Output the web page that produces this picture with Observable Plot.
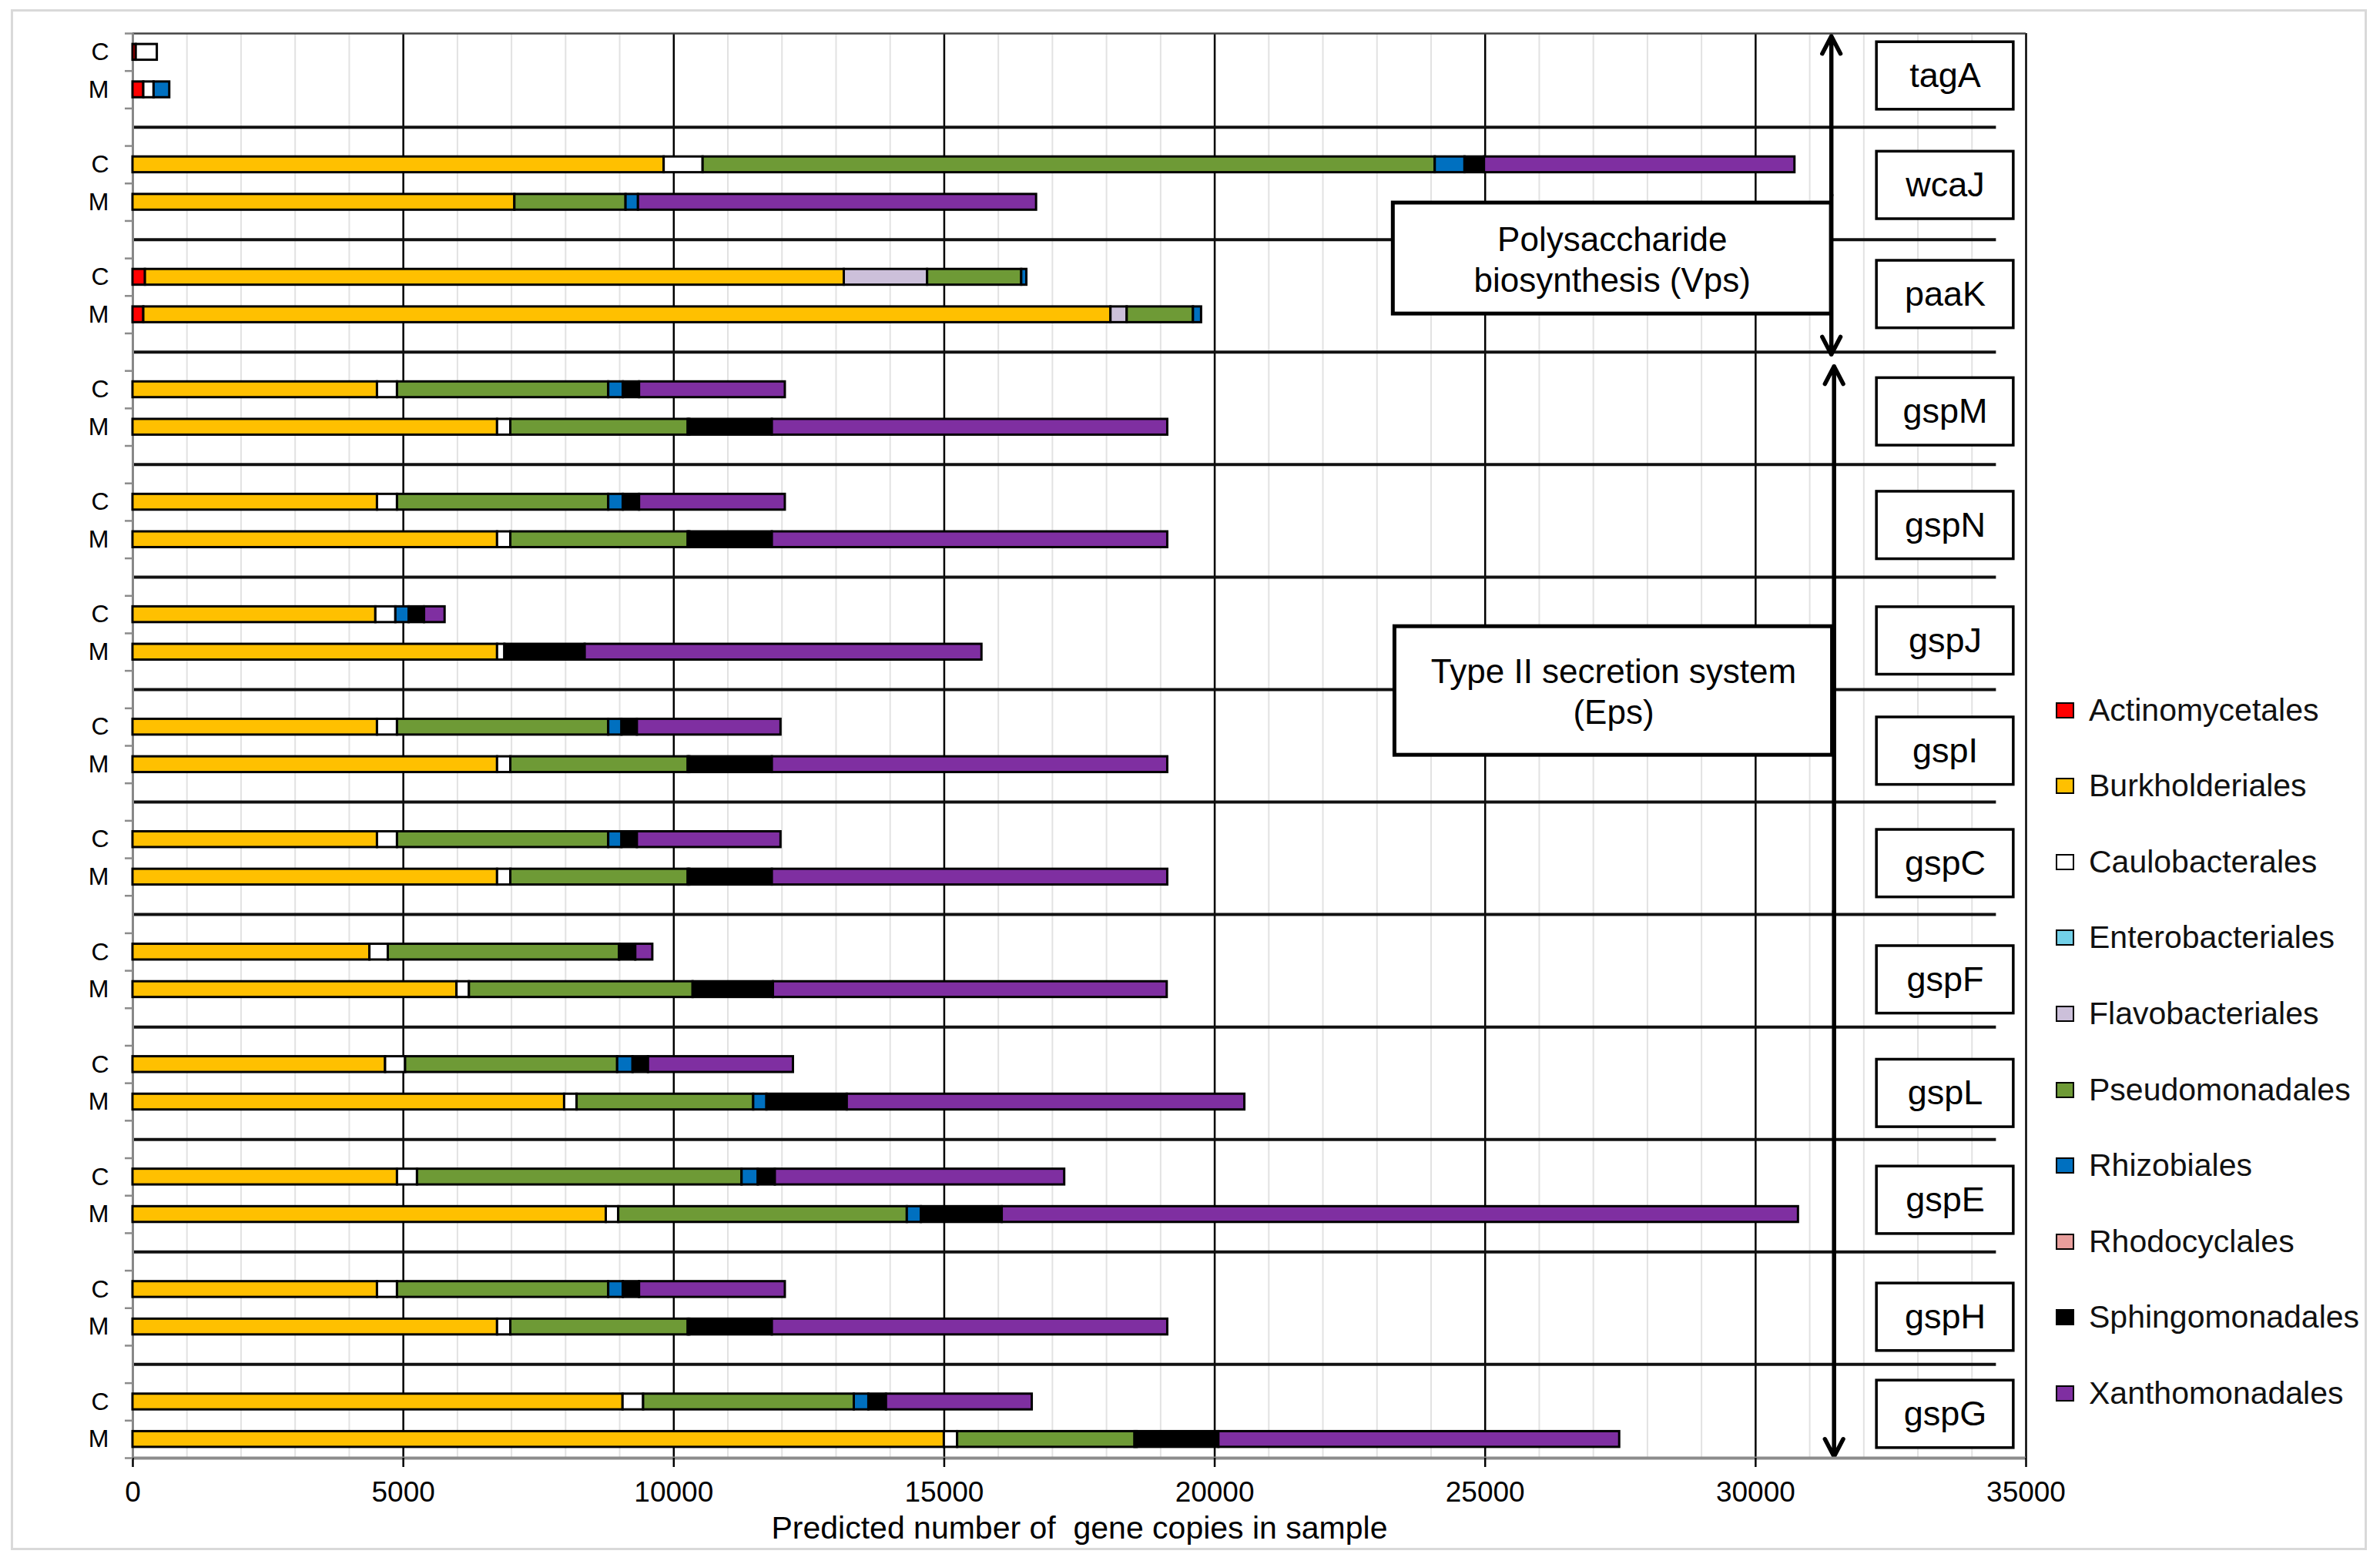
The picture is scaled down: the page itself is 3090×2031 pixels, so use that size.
<!DOCTYPE html>
<html>
<head>
<meta charset="utf-8">
<script src="https://cdn.jsdelivr.net/npm/d3@7"></script>
<script src="https://cdn.jsdelivr.net/npm/@observablehq/plot@0.6"></script>
<style>
  html, body { margin: 0; padding: 0; background: #fff; }
  body { position: relative; width: 3090px; height: 2031px; overflow: hidden; font-family: "Liberation Sans", Arial, sans-serif; }
  #frame { position: absolute; left: 14px; top: 12px; width: 3059px; height: 2001px; border: 3px solid #d9d9d9; box-sizing: border-box; pointer-events: none; }
  #legend { position: absolute; left: 0; top: 0; }
  .item { position: absolute; left: 2669px; height: 40px; display: flex; align-items: center; white-space: nowrap; }
  .sw { width: 20px; height: 17px; border: 2.5px solid #000; margin-right: 19px; }
  .lab { font-size: 41px; color: #111; }
  svg { position: absolute; left: 0; top: 0; }
</style>
</head>
<body>
<div id="chart"></div>
<div id="legend"></div>
<div id="frame"></div>
<script>
// ---- categories ----
const genes = ["tagA","wcaJ","paaK","gspM","gspN","gspJ","gspI","gspC","gspF","gspL","gspE","gspH","gspG"];
const samples = ["C","M"];
const orders = ["Actinomycetales","Burkholderiales","Caulobacterales","Enterobacteriales","Flavobacteriales",
                "Pseudomonadales","Rhizobiales","Rhodocyclales","Sphingomonadales","Xanthomonadales"];
const orderColors = ["#FF0000","#FFC000","#FFFFFF","#72D0E8","#CCC0DA","#6E9A36","#0070C0","#E89E9C","#000000","#7F2FA1"];

// ---- series values: pairs [C, M] for each gene in the order of `genes` ----
const Actinomycetales  = [60,200,   0,0,      230,200,    0,0,       0,0,       0,0,      0,0,       0,0,       0,0,       0,0,       0,0,       0,0,       0,0];
const Burkholderiales  = [0,0,      9820,7060, 12920,17880, 4520,6740, 4520,6740, 4490,6740, 4520,6740, 4520,6740, 4380,5990, 4670,7980, 4890,8750, 4520,6740, 9060,15000];
const Caulobacterales  = [390,190,  720,0,    0,0,        370,245,   370,245,   370,135,  370,245,   370,245,   340,230,   370,230,   370,230,   370,245,   380,245];
const Enterobacteriales= [0,0,      0,0,      0,0,        0,0,       0,0,       0,0,      0,0,       0,0,       0,0,       0,0,       0,0,       0,0,       0,0];
const Flavobacteriales = [0,0,      0,0,      1540,300,   0,0,       0,0,       0,0,      0,0,       0,0,       0,0,       0,0,       0,0,       0,0,       0,0];
const Pseudomonadales  = [0,0,      13535,2055, 1740,1225, 3905,3280, 3905,3280, 0,0,     3905,3280, 3905,3280, 4275,4135, 3920,3265, 6000,5335, 3905,3280, 3895,3280];
const Rhizobiales      = [0,290,    550,230,  95,150,     270,30,    270,30,    245,0,    245,30,    245,30,    0,0,       285,245,   300,260,   270,30,    270,40];
const Rhodocyclales    = [0,0,      0,0,      0,0,        0,0,       0,0,       0,0,      0,0,       0,0,       0,0,       0,0,       0,0,       0,0,       0,0];
const Sphingomonadales = [0,0,      360,0,    0,0,        300,1525,  300,1525,  285,1485, 285,1525,  285,1525,  300,1485,  285,1485,  315,1495,  300,1525,  325,1510];
const Xanthomonadales  = [0,0,      5740,7360, 0,0,       2695,7310, 2695,7310, 380,7335, 2655,7310, 2655,7310, 315,7280,  2680,7350, 5350,14720, 2695,7310, 2695,7410];
const seriesValues = [Actinomycetales,Burkholderiales,Caulobacterales,Enterobacteriales,Flavobacteriales,
                      Pseudomonadales,Rhizobiales,Rhodocyclales,Sphingomonadales,Xanthomonadales];

// ---- axis ticks ----
const xTicks = [0,5000,10000,15000,20000,25000,30000,35000];
const xMinorTicks = d3.range(1000, 35000, 1000).filter(v => v % 5000 !== 0);
const xTitle = "Predicted number of  gene copies in sample";

// ---- annotations (data units: x = gene copies, y = row index) ----
const labelBoxX = [32240, 34770];
const labelBoxOffset = [0.63,0.55,0.46,0.59,0.62,0.70,0.64,0.64,0.74,0.77,0.62,0.74,0.33]; // hand-placed label boxes, offset below the C row
const separatorEnd = 34450;
const groupBoxes = [
  {x1: 23300, x2: 31400, y1: 4.02, y2: 6.98, ty: 5.5, label: "Polysaccharide\nbiosynthesis (Vps)"},
  {x1: 23330, x2: 31420, y1: 15.32, y2: 18.75, ty: 17.03, label: "Type II secretion system\n(Eps)"}
];
const spans = [{x: 31400, y1: -0.43, y2: 8.06}, {x: 31450, y1: 8.38, y2: 37.46}];

// ---- derived tables ----
const segments = [];
genes.forEach((g, gi) => samples.forEach((s, si) => {
  const row = gi * 3 + si;
  let acc = 0;
  orders.forEach((o, oi) => {
    const v = seriesValues[oi][gi * 2 + si];
    if (v > 0) segments.push({gene: g, sample: s, order: o, row, x1: acc, x2: acc + v});
    acc += v;
  });
}));
const sampleRows = genes.flatMap((g, gi) => [gi * 3, gi * 3 + 1]);
const separatorRows = genes.slice(1).map((g, gi) => gi * 3 + 2);
const boundaryRows = d3.range(-0.5, 38, 1);
const geneCenter = (g, i) => i * 3 + labelBoxOffset[i];

const chart = Plot.plot({
  width: 3090,
  height: 2031,
  marginLeft: 172,
  marginRight: 460,
  marginTop: 43,
  marginBottom: 138,
  style: {fontFamily: "'Liberation Sans', Arial, sans-serif", fontSize: "37px", background: "transparent", color: "#000"},
  x: {domain: [0, 35000], label: null},
  y: {domain: [-0.5, 37.5], reverse: true, label: null},
  color: {domain: orders, range: orderColors},
  marks: [
    Plot.ruleX(xMinorTicks, {y1: -0.5, y2: 37.5, stroke: "#e2e2e2", strokeWidth: 2}),
    Plot.ruleX(xTicks.slice(1), {y1: -0.5, y2: 37.5, stroke: "#000", strokeWidth: 2.5}),
    Plot.ruleY(separatorRows, {x1: 0, x2: separatorEnd, stroke: "#111", strokeWidth: 4}),
    Plot.ruleY([-0.5], {stroke: "#444", strokeWidth: 2.5}),
    Plot.ruleX([0], {y1: -0.5, y2: 37.5, stroke: "#888", strokeWidth: 3}),
    Plot.rect(segments, {x1: "x1", x2: "x2", y1: d => d.row - 0.21, y2: d => d.row + 0.21,
                         fill: "order", stroke: "#000", strokeWidth: 3}),
    Plot.rect(groupBoxes, {x1: "x1", x2: "x2", y1: "y1", y2: "y2", fill: "#fff", stroke: "#000", strokeWidth: 5}),
    Plot.text(groupBoxes, {x: d => (d.x1 + d.x2) / 2, y: "ty", text: "label", fontSize: 44, lineHeight: 1.2, fill: "#000"}),
    Plot.arrow(spans, {x1: "x", x2: "x", y1: d => (d.y1 + d.y2) / 2, y2: "y1", stroke: "#000", strokeWidth: 5.5, headLength: 7, headAngle: 55}),
    Plot.arrow(spans, {x1: "x", x2: "x", y1: d => (d.y1 + d.y2) / 2, y2: "y2", stroke: "#000", strokeWidth: 5.5, headLength: 7, headAngle: 55}),
    Plot.rect(genes, {x1: () => labelBoxX[0], x2: () => labelBoxX[1], y1: (g, i) => geneCenter(g, i) - 0.9, y2: (g, i) => geneCenter(g, i) + 0.9,
                      fill: "#fff", stroke: "#000", strokeWidth: 3.5}),
    Plot.text(genes, {x: () => (labelBoxX[0] + labelBoxX[1]) / 2, y: geneCenter, text: d => d, fontSize: 45, fill: "#000"}),
    Plot.ruleY([37.5], {stroke: "#8c8c8c", strokeWidth: 4}),
    Plot.axisX({ticks: xTicks, tickFormat: d => String(d), tickSize: 12, tickPadding: 18, fontSize: 37, strokeWidth: 2.5, label: null}),
    Plot.axisY({ticks: sampleRows, tickFormat: r => samples[r % 3], tickSize: 0, tickPadding: 31, fontSize: 32, label: null}),
    Plot.axisY({ticks: boundaryRows, tickFormat: () => "", tickSize: 10, stroke: "#8c8c8c", strokeWidth: 2.5, label: null}),
    Plot.text([xTitle], {frameAnchor: "bottom", dy: 91, fontSize: 41, lineAnchor: "middle", fill: "#000"})
  ]
});
document.getElementById("chart").appendChild(chart);

// ---- legend ----
const legend = document.getElementById("legend");
orders.forEach((o, i) => {
  const item = document.createElement("div");
  item.className = "item";
  item.style.top = (922 + 98.6 * i - 20) + "px";
  const sw = document.createElement("div");
  sw.className = "sw";
  sw.style.background = orderColors[i];
  const lab = document.createElement("span");
  lab.className = "lab";
  lab.textContent = o;
  item.appendChild(sw);
  item.appendChild(lab);
  legend.appendChild(item);
});
</script>
</body>
</html>
